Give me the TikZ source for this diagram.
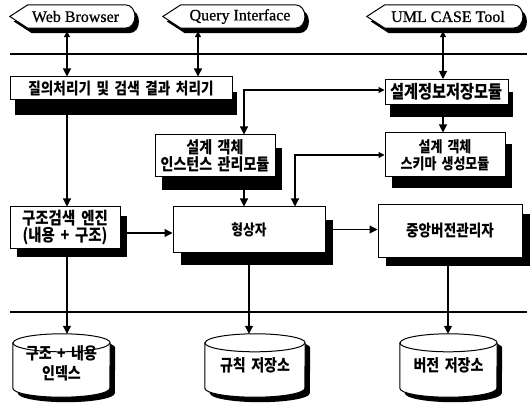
\documentclass[tikz,border=0pt]{standalone}
\usepackage{fontspec}
\setmainfont{Liberation Serif}
\newfontfamily\lat{Liberation Serif}[FakeBold=0.7]
\newfontfamily\kr{Noto Sans CJK KR}[FakeStretch=0.85, WordSpace=1.7]
\usetikzlibrary{arrows.meta,shadows,backgrounds,calc}
\newcommand\krs[1]{\kr\bfseries\fontsize{#1}{17}\selectfont}
\newcommand\wsp{\hspace{0.35em}}
\tikzset{
  box/.style={draw=black, line width=1pt, fill=white, align=center, inner sep=1pt, font=\krs{16}},
  shd/.style 2 args={drop shadow={shadow xshift=#1pt, shadow yshift=-#2pt, fill=black, opacity=1}},
  db/.style={inner sep=0pt, align=center, font=\krs{16.5}},
  disp/.style={inner sep=0pt, minimum height=23pt, font=\lat\fontsize{16}{18}\selectfont},
  arr/.style={line width=1.1pt, -{Triangle[length=8pt,width=8pt]}},
  darr/.style={line width=1.1pt, {Triangle[length=6pt,width=6pt]}-{Triangle[length=8pt,width=8pt]}},
  sep/.style={line width=1.1pt}
}
\begin{document}
\begin{tikzpicture}[x=1pt,y=-1pt]
\useasboundingbox (0,0) rectangle (532,403);
% display symbols
\node[disp, minimum width=125pt] (wb) at (72.5,16.5) {\hspace*{6pt}Web Browser};
\node[disp, minimum width=142pt] (qi) at (234,16.5) {\hspace*{12pt}Query Interface};
\node[disp, minimum width=156pt] (uml) at (445,16.5) {\hspace*{6pt}UML CASE Tool};
% boxes
\node[box, shd={5}{15}, minimum width=222pt, minimum height=23pt] (qp) at (121,88.5) {질의처리기\wsp 및\wsp 검색\wsp 결과\wsp 처리기};
\node[box, shd={5}{13}, minimum width=123pt, minimum height=25pt, font=\krs{18}] (dsm) at (446.5,92) {설계정보저장모듈};
\node[box, shd={7}{13}, minimum width=120pt, minimum height=42pt, font=\krs{16.5}] (inst) at (215,156) {설계 객체\\인스턴스 관리모듈};
\node[box, shd={7}{11}, minimum width=120pt, minimum height=44pt, font=\krs{15.3}] (schema) at (445,155) {설계 객체\\스키마 생성모듈};
\node[box, shd={7}{9}, minimum width=110pt, minimum height=41pt, font=\krs{17}] (sse) at (65,227.5) {구조검색\wsp 엔진\\(내용 + 구조)};
\node[box, shd={8}{13}, minimum width=152pt, minimum height=45pt, font=\krs{15}] (shape) at (249,229.5) {형상자};
\node[box, shd={8}{9}, minimum width=144pt, minimum height=52pt] (cvm) at (450,231) {중앙버전관리자};
% repositories
\node[db, minimum width=97pt, minimum height=63pt] (idx) at (61.5,365.5) {\raisebox{-11pt}{\begin{tabular}{@{}c@{}}구조 + 내용\\[1pt]인덱스\end{tabular}}};
\node[db, minimum width=100pt, minimum height=63pt] (rule) at (255,365.5) {\raisebox{-9pt}{규칙 저장소}};
\node[db, minimum width=97pt, minimum height=63pt] (ver) at (448.5,365.5) {\raisebox{-9pt}{버전 저장소}};
% helper coordinates
\coordinate (wbA) at ([xshift=-5.5pt,yshift=-3pt]wb.south);
\coordinate (qiA) at ([xshift=-36pt,yshift=-3pt]qi.south);
\coordinate (umlA) at ([xshift=-2pt,yshift=-3pt]uml.south);
\coordinate (instT) at ([xshift=29pt]inst.north);
\coordinate (shapeT) at ([xshift=46pt]shape.north);
\begin{pgfonlayer}{background}
\foreach \n in {wb,qi,uml}{
  \fill[black] ([shift={(4pt,-5pt)}]\n.west) -- ([shift={(22pt,-5pt)}]\n.north west) -- ([shift={(-6pt,-5pt)}]\n.north east) .. controls +(13pt,0pt) and +(13pt,0pt) .. ([shift={(-6pt,-5pt)}]\n.south east) -- ([shift={(22pt,-5pt)}]\n.south west) -- cycle;
  \draw[line width=1pt, fill=white] (\n.west) -- ([xshift=18pt]\n.north west) -- ([xshift=-10pt]\n.north east) .. controls +(13pt,0pt) and +(13pt,0pt) .. ([xshift=-10pt]\n.south east) -- ([xshift=18pt]\n.south west) -- cycle;
}
\foreach \n/\r in {idx/48.5pt, rule/50pt, ver/48.5pt}{
  \fill[black] ([shift={(5pt,-14pt)}]\n.north west) -- ([shift={(5pt,4pt)}]\n.south west) arc[start angle=180, end angle=360, x radius=\r, y radius=9pt] -- ([shift={(5pt,-14pt)}]\n.north east) arc[start angle=0, end angle=180, x radius=\r, y radius=9pt] -- cycle;
  \draw[line width=1pt, fill=white] ([yshift=-9pt]\n.north west) -- ([yshift=9pt]\n.south west) arc[start angle=180, end angle=360, x radius=\r, y radius=9pt] -- ([yshift=-9pt]\n.north east) arc[start angle=0, end angle=180, x radius=\r, y radius=9pt] -- cycle;
  \draw[line width=1pt] ([yshift=-9pt]\n.north west) arc[start angle=180, end angle=360, x radius=\r, y radius=9pt];
}
\draw[sep] (10,54) -- (527,54);
\draw[sep] (10,312) -- (527,312);
\draw[darr] (wbA) -- (wbA |- qp.north);
\draw[darr] (qiA) -- (qiA |- qp.north);
\draw[darr] (umlA) -- (umlA |- dsm.north);
\draw[arr] (wbA |- qp.south) -- (wbA |- sse.north);
\draw[darr] ([yshift=2pt]dsm.west) -| (instT);
\draw[arr] (instT |- inst.south) -- (instT |- shape.north);
\draw[arr] (umlA |- dsm.south) -- (umlA |- schema.north);
\draw[darr] (schema.west) -| (shapeT);
\draw[arr] ([yshift=-5.5pt]sse.east) -- ([yshift=-5.5pt]sse.east -| shape.west);
\draw[arr] (shape.east) -- (shape.east -| cvm.west);
\draw[arr] (wbA |- sse.south) -- (wbA |- idx.north);
\draw[arr] (shape.south) -- (shape.south |- rule.north);
\draw[arr] ([xshift=-2pt]cvm.south) -- ([xshift=-2pt]cvm.south |- ver.north);
\end{pgfonlayer}
\end{tikzpicture}
\end{document}
